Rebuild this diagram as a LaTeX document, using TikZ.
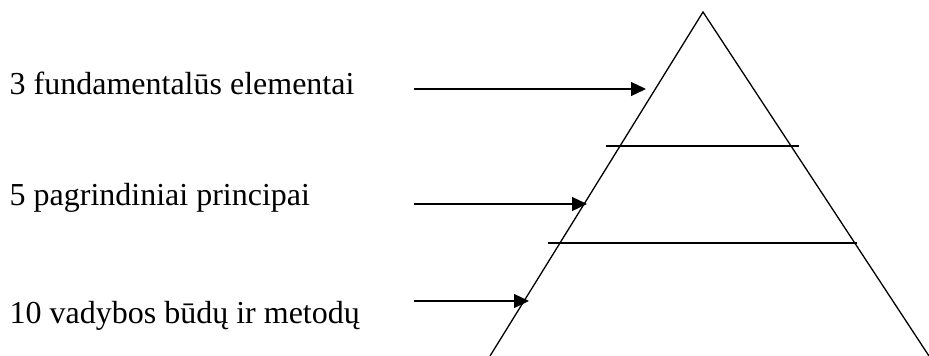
\documentclass[tikz,border=0pt]{standalone}
\usepackage{fontspec}
\setmainfont{Liberation Serif}
\usetikzlibrary{arrows.meta}
\begin{document}
\begin{tikzpicture}[x=1pt,y=-1pt,
  line width=1.3pt,
  label/.style={anchor=base west,inner sep=0pt,font=\fontsize{32}{38}\selectfont},
  pointer/.style={-{Triangle[length=15pt,width=14pt]}},
  tier/.style={line cap=butt}]
  \useasboundingbox (0,0) rectangle (929,356);
  % pyramid outline
  \coordinate (apex) at (703,12);
  \coordinate (bl) at (490,356);
  \coordinate (br) at (929,356);
  \draw[line join=miter] (bl) -- (apex) -- (br);
  % tier separators
  \coordinate (s1l) at (606,146);
  \coordinate (s1r) at (799,146);
  \coordinate (s2l) at (548,243);
  \coordinate (s2r) at (857,243);
  \draw[tier] (s1l) -- (s1r);
  \draw[tier] (s2l) -- (s2r);
  % labels
  \node[label] (t1) at (9,94) {3 fundamentalūs elementai};
  \node[label] (t2) at (9,205) {5 pagrindiniai principai};
  \node[label] (t3) at (9,323) {10 vadybos būdų ir metodų};
  % arrows pointing to the tiers
  \coordinate (a1s) at (414,89);
  \coordinate (a1e) at (646,89);
  \coordinate (a2s) at (414,204);
  \coordinate (a2e) at (587,204);
  \coordinate (a3s) at (414,301);
  \coordinate (a3e) at (529,301);
  \draw[pointer] (a1s) -- (a1e);
  \draw[pointer] (a2s) -- (a2e);
  \draw[pointer] (a3s) -- (a3e);
\end{tikzpicture}
\end{document}
